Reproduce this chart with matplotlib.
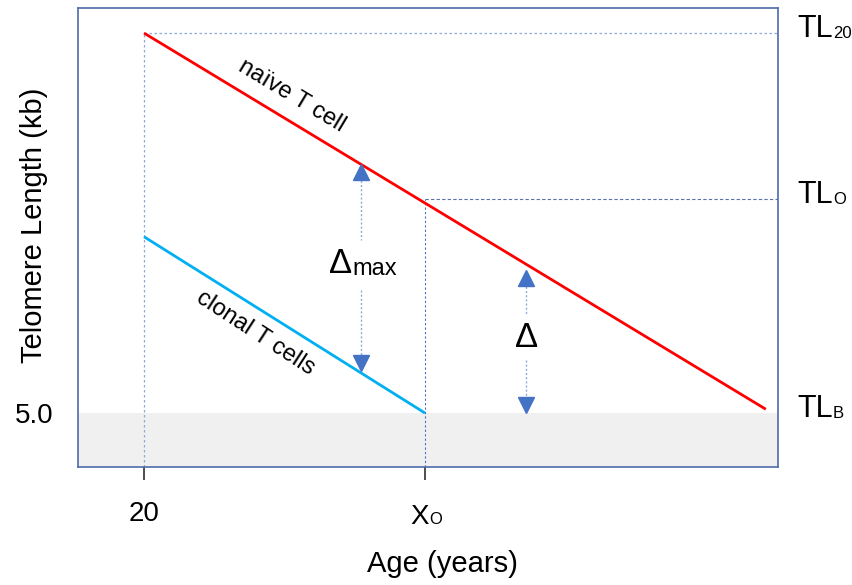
import matplotlib

matplotlib.use("Agg")
import matplotlib.pyplot as plt
from matplotlib.transforms import offset_copy

plt.rcParams["font.family"] = ["Liberation Sans", "DejaVu Sans"]

# schematic values (age in years, telomere length in kb)
naive_age = [20, 86.4]
naive_tl = [10.0, 5.05]
clonal_age = [20, 50]
clonal_tl = [7.32, 5.0]
tl_20 = 10.0
tl_o = 7.82
tl_b = 5.0
x_o = 50
dmax_age = 43.2
dmax_ends = [8.27, 5.56]
dmax_label_tl = 6.95
delta_age = 60.8
delta_ends = [6.88, 5.0]
delta_label_tl = 6.0
right_labels = [("TL", "20"), ("TL", "O"), ("TL", "B")]

RED = "#ff0000"
CYAN = "#00b0f0"
ARROW = "#4472c4"
GUIDE = "#8eaadb"

fig = plt.figure(figsize=(8.53, 5.85), dpi=100)
ax = fig.add_axes([78 / 853, 1 - 467 / 585, 700 / 853, 459 / 585])
ax.set_xlim(12.95, 87.7)
ax.set_ylim(4.29, 10.33)

ax.axhspan(4.29, tl_b, color="#f0f0f0", zorder=0, lw=0)

# guide lines
ax.plot([20, 20], [4.29, tl_20], ls=(0, (2, 2)), color=GUIDE, lw=0.9, zorder=1)
ax.plot([20, 87.7], [tl_20, tl_20], ls=(0, (2, 2)), color=GUIDE, lw=0.9, zorder=1)
ax.plot([x_o, x_o], [4.29, tl_o], ls=(0, (2, 2)), color=ARROW, lw=0.8, zorder=1)
ax.plot([x_o, 87.7], [tl_o, tl_o], ls=(0, (3, 2)), color="#5a70a8", lw=0.8, zorder=1)

ax.plot(naive_age, naive_tl, color=RED, lw=2.0, zorder=3, solid_capstyle="butt")
ax.plot(clonal_age, clonal_tl, color=CYAN, lw=2.0, zorder=3, solid_capstyle="butt")


def sub_text(x, y, main, sub, size, sub_size, transform, ha="left", va="baseline", rise=4.5):
    t = ax.text(x, y, main, fontsize=size, transform=transform, ha=ha, va=va)
    ax.annotate(sub, xy=(1, 0), xycoords=t, xytext=(0.3, rise), textcoords="offset points",
                fontsize=sub_size, ha="left", va="baseline", annotation_clip=False)
    return t


ms = 11
up = offset_copy(ax.transData, fig=fig, y=-ms / 2, units="points")
down = offset_copy(ax.transData, fig=fig, y=ms / 2, units="points")


def delta_arrow(x, ends, label_y, gap):
    top, bottom = ends
    ax.plot([x, x], [top - 0.1, label_y + gap], ls=(0, (1.5, 1.5)), color=GUIDE, lw=1.0)
    ax.plot([x, x], [label_y - gap, bottom + 0.1], ls=(0, (1.5, 1.5)), color=GUIDE, lw=1.0)
    ax.plot([x], [top], marker="^", ms=ms, color=ARROW, mec=ARROW, transform=up, zorder=4)
    ax.plot([x], [bottom], marker="v", ms=ms, color=ARROW, mec=ARROW, transform=down, zorder=4)


delta_arrow(dmax_age, dmax_ends, dmax_label_tl, 0.33)
delta_arrow(delta_age, delta_ends, delta_label_tl, 0.3)
sub_text(dmax_age, dmax_label_tl, "Δ", "max", 25, 17,
         offset_copy(ax.transData, fig=fig, x=-15, y=-6, units="points"), ha="center", rise=3.5)
ax.text(delta_age, delta_label_tl, "Δ", ha="center", va="center", fontsize=25)

ax.text(35.8, 9.18, "naïve T cell", rotation=-31, ha="center", va="center", fontsize=17)
ax.text(31.85, 6.05, "clonal T cells", rotation=-33, ha="center", va="center", fontsize=17)

ytrans = ax.get_yaxis_transform()
for (main, sub), y in zip(right_labels, [tl_20, tl_o, tl_b]):
    sub_text(1.027, y, main, sub, 22, 12,
             offset_copy(ytrans, fig=fig, y=-3, units="points"), rise=4.5)

ax.set_xticks([20, x_o])
ax.set_xticklabels(["20", ""], fontsize=20)
ax.set_yticks([tl_b])
ax.set_yticklabels(["5.0"], fontsize=20)
ax.tick_params(axis="x", direction="out", length=9.5, width=1.3, color="#404040", pad=15)
ax.tick_params(axis="y", length=0, pad=18)
sub_text(x_o, -0.125, "X", "O", 20, 12,
         offset_copy(ax.get_xaxis_transform(), fig=fig, x=-4, units="points"), ha="center", rise=4.5)

for sp in ax.spines.values():
    sp.set_color("#4f6bab")
    sp.set_linewidth(1.2)

ax.set_xlabel("Age (years)", fontsize=21)
ax.set_ylabel("Telomere Length (kb)", fontsize=21)
ax.xaxis.set_label_coords(0.521, -0.18)
ax.yaxis.set_label_coords(-0.043, 0.527)

fig.savefig("out.png", dpi=100)
